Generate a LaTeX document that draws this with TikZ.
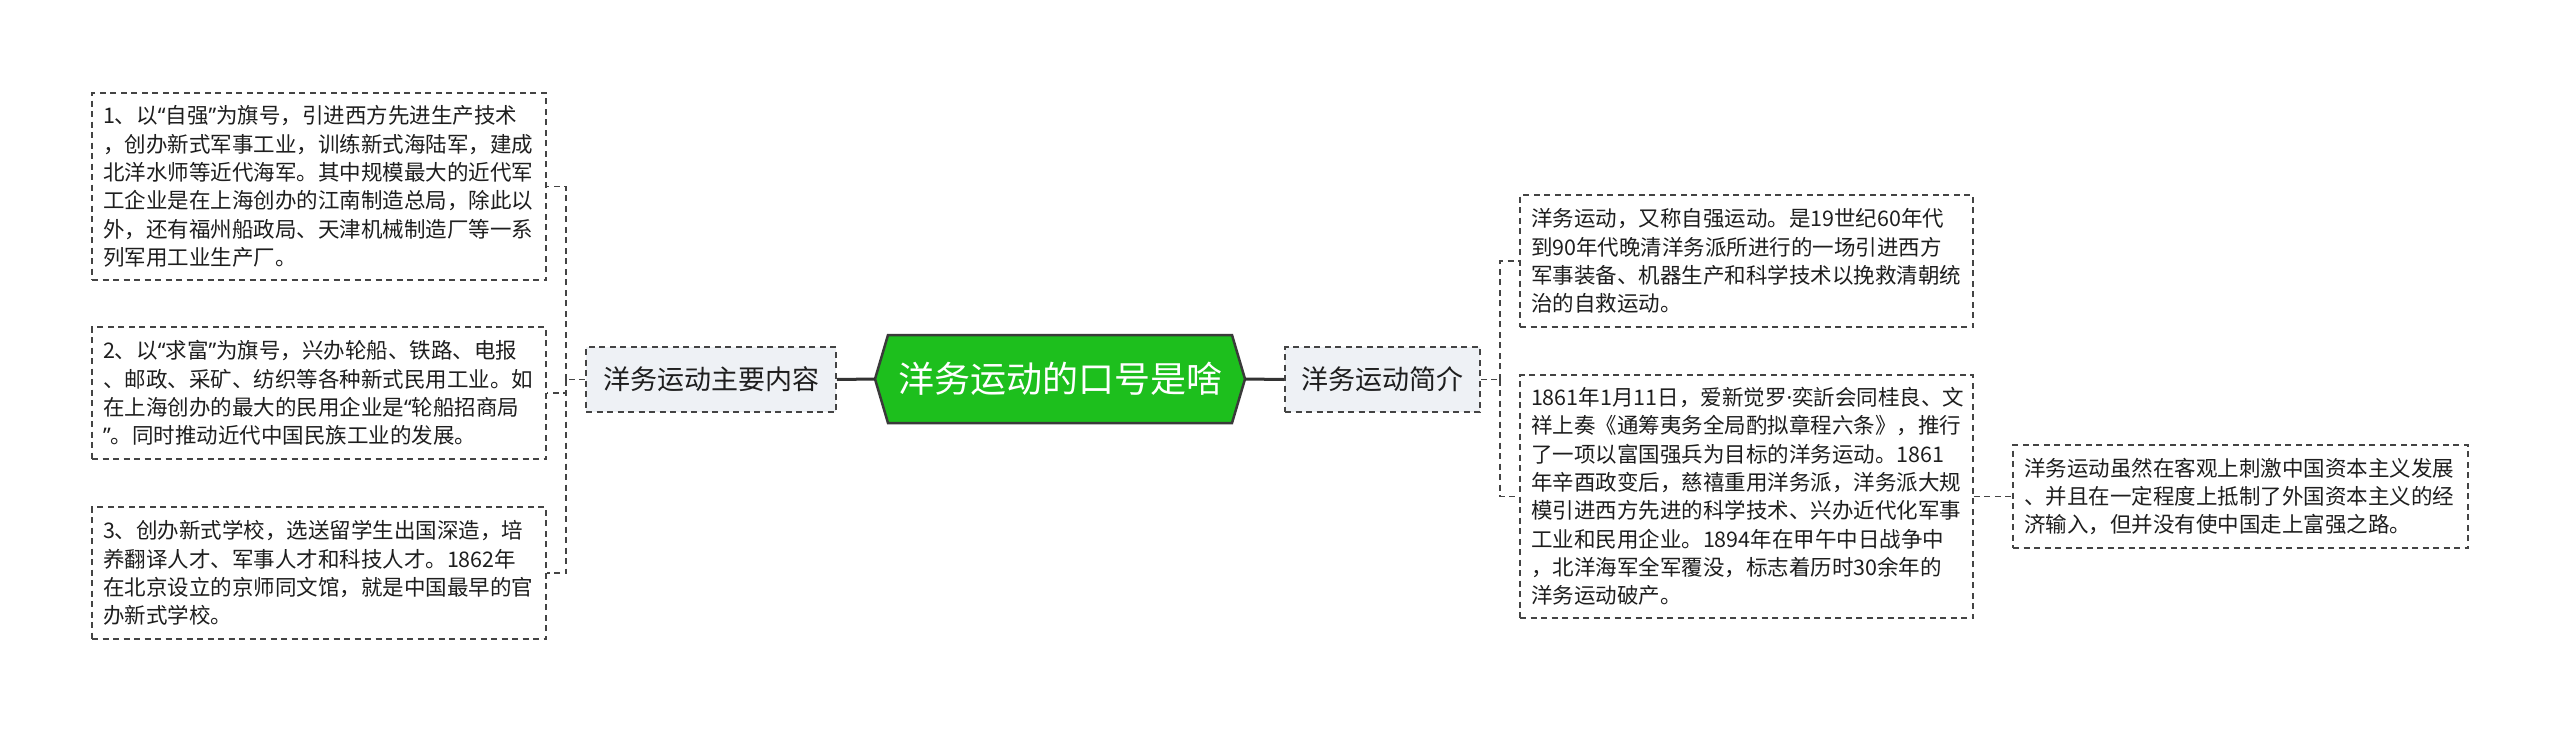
\documentclass[tikz,border=0pt]{standalone}
\usepackage{fontspec}
\setmainfont{Noto Sans CJK SC}
\newfontfamily\latq{Noto Sans}
\newcommand{\myoq}{{\latq “}}
\newcommand{\mycq}{{\latq ”}}
\newcommand{\mydot}{{\latq ·}}
\definecolor{dashc}{HTML}{444444}
\definecolor{txtc}{HTML}{1E1E1E}
\definecolor{nodefill}{HTML}{EEF1F5}
\definecolor{hexfill}{HTML}{1DBF1D}
\definecolor{hexline}{HTML}{3A3A3A}
\definecolor{linkc}{HTML}{333333}
\begin{document}
\begin{tikzpicture}[x=1pt,y=-1pt,
  dline/.style={draw=dashc, line width=1.8pt, dash pattern=on 6pt off 4.5pt},
  txtbox/.style={dline, fill=white, align=left, inner xsep=11pt, inner ysep=0pt,
    font=\fontsize{21.5pt}{28.3pt}\selectfont, text=txtc, anchor=center},
  topic/.style={dline, fill=nodefill, font=\fontsize{27pt}{32pt}\selectfont, text=txtc,
    inner sep=0pt, minimum height=65pt},
  link/.style={draw=linkc, line width=3pt},
]
\useasboundingbox[fill=white] (0,0) rectangle (2560,731);

% central hexagon
\filldraw[fill=hexfill, draw=hexline, line width=2.5pt]
  (875,379) -- (888,335) -- (1232,335) -- (1245,379) -- (1232,423) -- (888,423) -- cycle;
\node[font=\fontsize{36pt}{40pt}\selectfont, text=white, minimum width=370pt,
  minimum height=88pt, inner sep=0pt] (hex) at (1060,379) {洋务运动的口号是啥};

% topics
\node[topic, minimum width=250pt] (Lnode) at (711,379.5) {洋务运动主要内容};
\node[topic, minimum width=195pt] (Rnode) at (1382.5,379.5) {洋务运动简介};

% left boxes
\node[txtbox, minimum width=454pt, minimum height=187pt, text width=432pt] (L1) at (319,186.5) {1、以\myoq 自强\mycq 为旗号，引进西方先进生产技术\\，创办新式军事工业，训练新式海陆军，建成\\北洋水师等近代海军。其中规模最大的近代军\\工企业是在上海创办的江南制造总局，除此以\\外，还有福州船政局、天津机械制造厂等一系\\列军用工业生产厂。};
\node[txtbox, minimum width=454pt, minimum height=132pt, text width=432pt] (L2) at (319,393) {2、以\myoq 求富\mycq 为旗号，兴办轮船、铁路、电报\\、邮政、采矿、纺织等各种新式民用工业。如\\在上海创办的最大的民用企业是\myoq 轮船招商局\\\mycq 。同时推动近代中国民族工业的发展。};
\node[txtbox, minimum width=454pt, minimum height=132pt, text width=432pt] (L3) at (319,573) {3、创办新式学校，选送留学生出国深造，培\\养翻译人才、军事人才和科技人才。1862年\\在北京设立的京师同文馆，就是中国最早的官\\办新式学校。};

% right boxes
\node[txtbox, minimum width=453pt, minimum height=132pt, text width=431pt] (R1) at (1746.5,261) {洋务运动，又称自强运动。是19世纪60年代\\到90年代晚清洋务派所进行的一场引进西方\\军事装备、机器生产和科学技术以挽救清朝统\\治的自救运动。};
\node[txtbox, minimum width=453pt, minimum height=243pt, text width=431pt] (R2) at (1746.5,496.5) {1861年1月11日，爱新觉罗\mydot 奕訢会同桂良、文\\祥上奏《通筹夷务全局酌拟章程六条》，推行\\了一项以富国强兵为目标的洋务运动。1861\\年辛酉政变后，慈禧重用洋务派，洋务派大规\\模引进西方先进的科学技术、兴办近代化军事\\工业和民用企业。1894年在甲午中日战争中\\，北洋海军全军覆没，标志着历时30余年的\\洋务运动破产。};
\node[txtbox, minimum width=455pt, minimum height=103pt, text width=433pt] (R3) at (2240.5,496.5) {洋务运动虽然在客观上刺激中国资本主义发展\\、并且在一定程度上抵制了外国资本主义的经\\济输入，但并没有使中国走上富强之路。};

% solid links
\draw[link] (Lnode.east) -- (hex.west);
\draw[link] (hex.east) -- (Rnode.west);

% dashed brackets
\coordinate (lb) at (566,379.5);
\draw[dline] (Lnode.west) -- (lb);
\draw[dline] (lb) |- (L1.east);
\draw[dline] (lb) |- (L2.east);
\draw[dline] (lb) |- (L3.east);

\coordinate (rb) at (1500,379.5);
\draw[dline] (Rnode.east) -- (rb);
\draw[dline] (rb) |- (R1.west);
\draw[dline] (rb) |- (R2.west);

\draw[dline] (R2.east) -- (R3.west);
\end{tikzpicture}
\end{document}
